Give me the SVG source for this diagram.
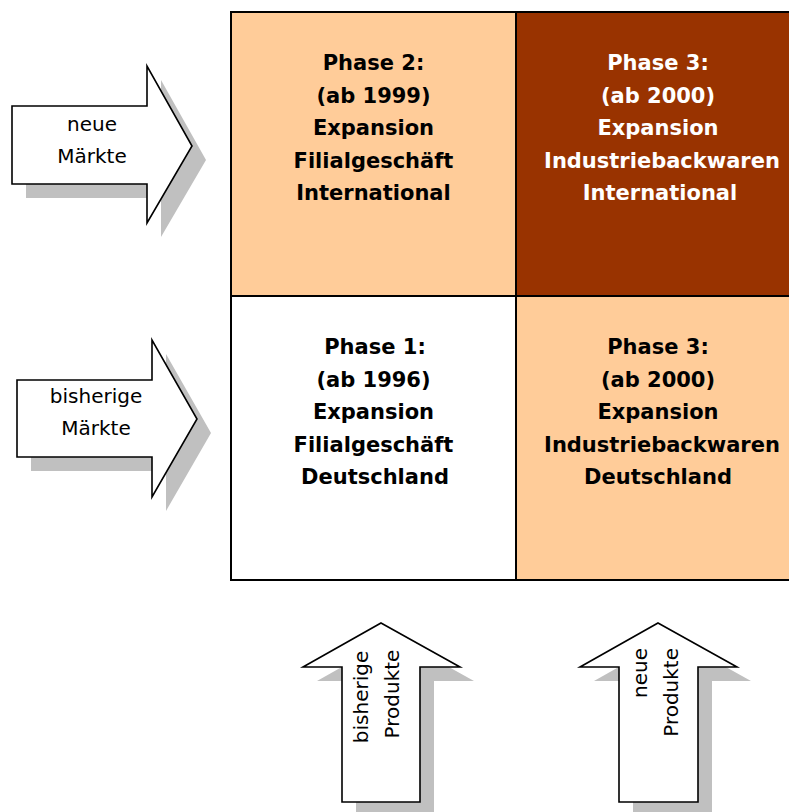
<svg xmlns="http://www.w3.org/2000/svg" width="789" height="812" viewBox="0 0 789 812">
<style>
.cell{stroke:#000;stroke-width:2}
.bt{font-family:"DejaVu Sans",Verdana,sans-serif;font-weight:bold;font-size:21px;text-anchor:middle;fill:#000}
.wt{fill:#fff}
.arr{fill:#fff;stroke:#000;stroke-width:1.6;stroke-linejoin:miter}
.sh{fill:#c0c0c0}
.at{font-family:"DejaVu Sans",Verdana,sans-serif;font-size:20px;fill:#000}
</style>
<rect width="789" height="812" fill="#fff"/>
<g id="cell-phase2">
<rect class="cell" x="231" y="12" width="285" height="284" fill="#ffcc99"/>
<text class="bt" x="373.5" y="70">Phase 2:</text>
<text class="bt" x="373.5" y="103">(ab 1999)</text>
<text class="bt" x="373.5" y="135">Expansion</text>
<text class="bt" x="373.5" y="168">Filialgeschäft</text>
<text class="bt" x="373.5" y="200">International</text>
</g>
<g id="cell-phase3-int">
<rect class="cell" x="516" y="12" width="290" height="284" fill="#993300"/>
<text class="bt wt" x="658" y="70">Phase 3:</text>
<text class="bt wt" x="658" y="103">(ab 2000)</text>
<text class="bt wt" x="658" y="135">Expansion</text>
<text class="bt wt" x="662" y="168">Industriebackwaren</text>
<text class="bt wt" x="660" y="200">International</text>
</g>
<g id="cell-phase1">
<rect class="cell" x="231" y="296" width="285" height="284" fill="#fff"/>
<text class="bt" x="375" y="354">Phase 1:</text>
<text class="bt" x="373.5" y="387">(ab 1996)</text>
<text class="bt" x="373.5" y="419">Expansion</text>
<text class="bt" x="373.5" y="452">Filialgeschäft</text>
<text class="bt" x="375" y="484">Deutschland</text>
</g>
<g id="cell-phase3-de">
<rect class="cell" x="516" y="296" width="290" height="284" fill="#ffcc99"/>
<text class="bt" x="658" y="354">Phase 3:</text>
<text class="bt" x="658" y="387">(ab 2000)</text>
<text class="bt" x="658" y="419">Expansion</text>
<text class="bt" x="662" y="452">Industriebackwaren</text>
<text class="bt" x="658" y="484">Deutschland</text>
</g>
<g id="arrow-neue-maerkte">
<polygon class="sh" transform="translate(14,14)" points="12,106 147,106 147,66 192,146 147,223 147,184 12,184"/>
<polygon class="arr" points="12,106 147,106 147,66 192,146 147,223 147,184 12,184"/>
<text class="at" x="92" y="131" text-anchor="middle">neue</text>
<text class="at" x="92" y="163" text-anchor="middle">Märkte</text>
</g>
<g id="arrow-bisherige-maerkte">
<polygon class="sh" transform="translate(14,14)" points="17,380 152,380 152,340 197,419 152,497 152,457 17,457"/>
<polygon class="arr" points="17,380 152,380 152,340 197,419 152,497 152,457 17,457"/>
<text class="at" x="96" y="403" text-anchor="middle">bisherige</text>
<text class="at" x="96" y="435" text-anchor="middle">Märkte</text>
</g>
<g id="arrow-bisherige-produkte">
<polygon class="sh" transform="translate(14,14)" points="381,623 460,667 420,667 420,802 342,802 342,667 303,667"/>
<polygon class="arr" points="381,623 460,667 420,667 420,802 342,802 342,667 303,667"/>
<text class="at" transform="translate(368,697) rotate(-90)" text-anchor="middle">bisherige</text>
<text class="at" transform="translate(399,694) rotate(-90)" text-anchor="middle">Produkte</text>
</g>
<g id="arrow-neue-produkte">
<polygon class="sh" transform="translate(14,14)" points="658,623 737,667 698,667 698,802 619,802 619,667 580,667"/>
<polygon class="arr" points="658,623 737,667 698,667 698,802 619,802 619,667 580,667"/>
<text class="at" transform="translate(647,648) rotate(-90)" text-anchor="end">neue</text>
<text class="at" transform="translate(678,648) rotate(-90)" text-anchor="end">Produkte</text>
</g>
<g id="connectors"></g>
</svg>
